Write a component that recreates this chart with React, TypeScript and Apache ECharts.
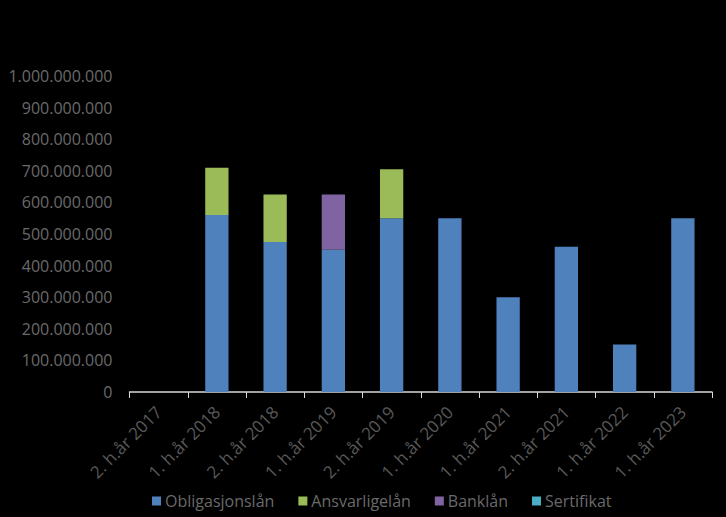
import React, { useEffect, useRef } from "react";
import * as echarts from "echarts";

const categories = [
  "2. h.år 2017",
  "1. h.år 2018",
  "2. h.år 2018",
  "1. h.år 2019",
  "2. h.år 2019",
  "1. h.år 2020",
  "1. h.år 2021",
  "2. h.år 2021",
  "1. h.år 2022",
  "1. h.år 2023",
];
const obligasjonslan = [0, 560000000, 475000000, 450000000, 550000000, 550000000, 300000000, 460000000, 150000000, 550000000];
const ansvarligelan = [0, 150000000, 150000000, 0, 155000000, 0, 0, 0, 0, 0];
const banklan = [0, 0, 0, 175000000, 0, 0, 0, 0, 0, 0];
const sertifikat = [0, 0, 0, 0, 0, 0, 0, 0, 0, 0];

const seriesNames = ["Obligasjonslån", "Ansvarligelån", "Banklån", "Sertifikat"];
const colors = ["#4f81bd", "#9bbb59", "#8064a2", "#4bacc6"];

const fmt = (v: number) => String(Math.round(v)).replace(/\B(?=(\d{3})+(?!\d))/g, ".");

export default function App() {
  const ref = useRef<HTMLDivElement>(null);
  useEffect(() => {
    if (!ref.current) return;
    const chart = echarts.init(ref.current, undefined, { renderer: "svg" });
    const font = "'Open Sans', sans-serif";
    const datas = [obligasjonslan, ansvarligelan, banklan, sertifikat];
    chart.setOption({
      animation: false,
      backgroundColor: "#000000",
      color: colors,
      grid: { left: 129.5, right: 14, top: 76, bottom: 125, containLabel: false },
      legend: {
        top: 488,
        left: 147,
        itemWidth: 9,
        itemHeight: 9,
        itemGap: 24,
        icon: "rect",
        textStyle: { color: "#6a6a6a", fontSize: 16, fontFamily: font, padding: [0, 0, 0, -1] },
        data: seriesNames,
      },
      xAxis: {
        type: "category",
        data: categories,
        axisLine: { show: true, lineStyle: { color: "#d9d9d9", width: 1.5 } },
        axisTick: { show: true, length: 6, lineStyle: { color: "#d9d9d9" } },
        axisLabel: {
          rotate: 45,
          color: "#595959",
          fontSize: 17,
          fontFamily: font,
          margin: 17,
          interval: 0,
        },
      },
      yAxis: {
        type: "value",
        min: 0,
        max: 1000000000,
        interval: 100000000,
        axisLine: { show: false },
        axisTick: { show: false },
        splitLine: { show: false },
        axisLabel: {
          color: "#6a6a6a",
          fontSize: 16,
          fontFamily: font,
          margin: 17,
          formatter: (v: number) => fmt(v),
        },
      },
      series: seriesNames.map((name, i) => ({
        name,
        type: "bar",
        stack: "total",
        barWidth: "40%",
        data: datas[i],
        itemStyle: { color: colors[i] },
      })),
    });
    return () => chart.dispose();
  }, []);
  return <div ref={ref} style={{ width: 726, height: 517, position: "absolute", left: 0, top: 0 }} />;
}
